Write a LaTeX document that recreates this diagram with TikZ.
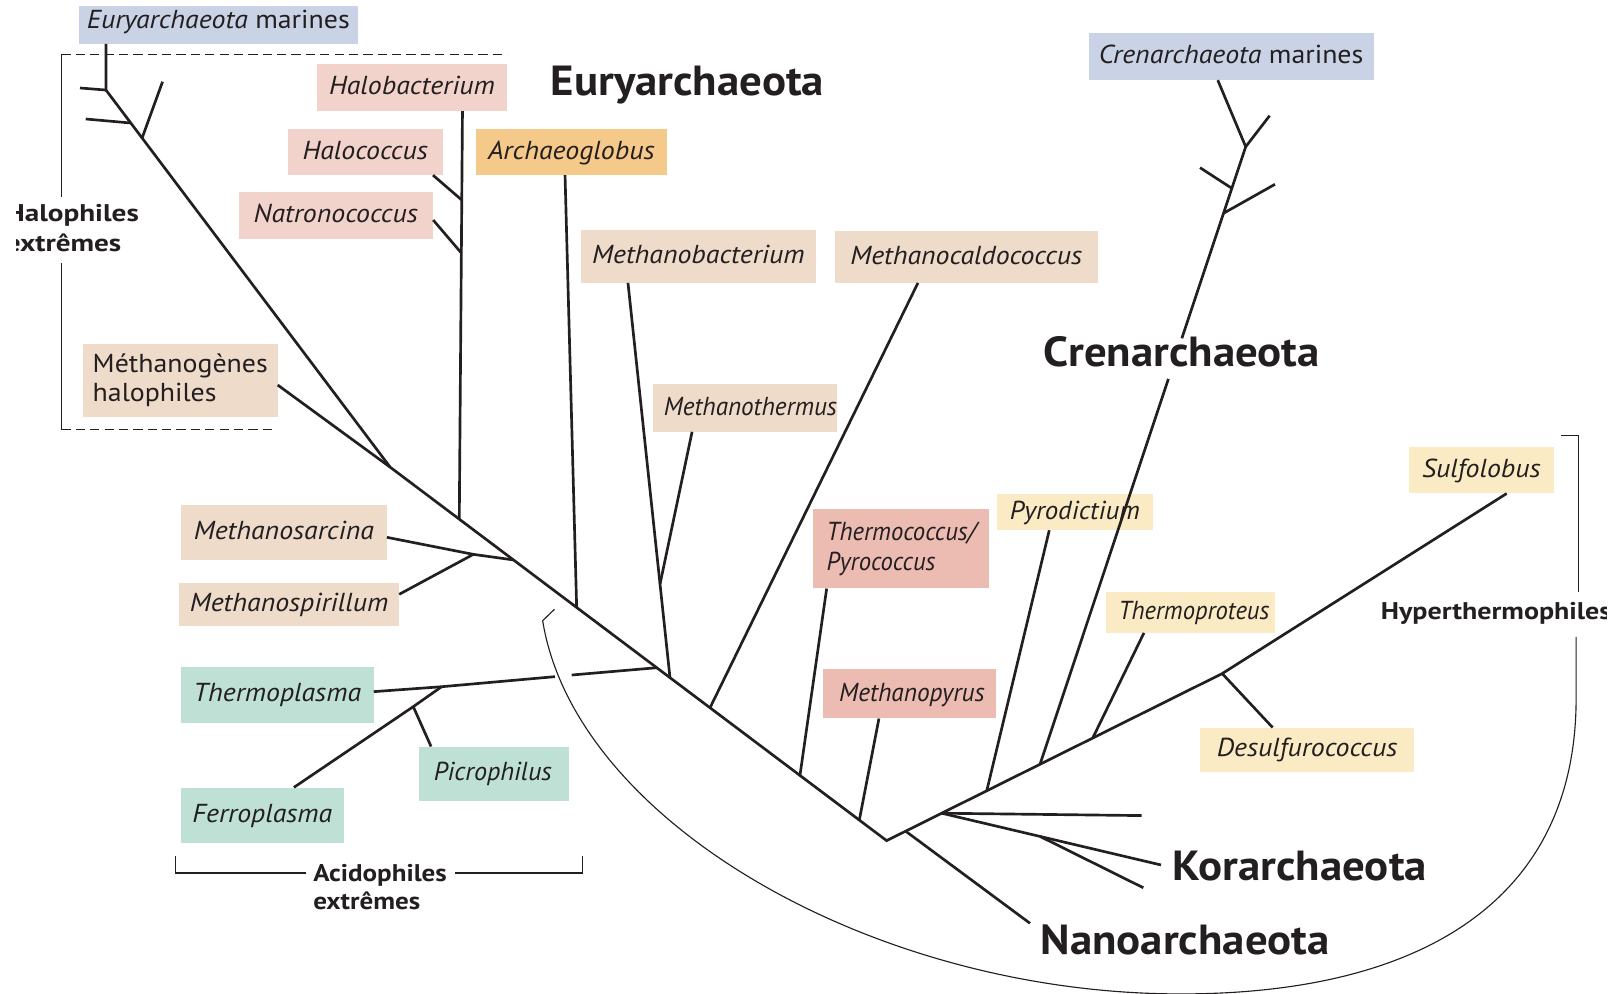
\documentclass[tikz,border=0pt]{standalone}
\usepackage{fontspec}
\usepackage{graphicx}
\setmainfont{PT Sans}[FakeStretch=1.072]
\newfontfamily\ttlfam{PT Sans}[FakeStretch=1.065]
\newfontfamily\grpfam{PT Sans}[FakeStretch=1.12]
\newfontfamily\hypfam{PT Sans}[FakeStretch=1.16]
\newfontfamily\halfam{PT Sans}[FakeStretch=1.21]
\usetikzlibrary{calc}
\definecolor{ink}{HTML}{231F20}
\definecolor{cBlue}{HTML}{C9D3E5}
\definecolor{cPink}{HTML}{F1D3CB}
\definecolor{cOrange}{HTML}{F5C989}
\definecolor{cBeige}{HTML}{EEDBCA}
\definecolor{cTeal}{HTML}{BFE0D5}
\definecolor{cSalmon}{HTML}{ECBBB1}
\definecolor{cYellow}{HTML}{FAEBC5}
\newcommand\mylabfont{\fontsize{25.3}{28}\selectfont\itshape}
\newcommand\myuplabfont{\fontsize{25.3}{27.6}\selectfont}
\newcommand\myttlfont{\ttlfam\fontsize{41}{44}\selectfont\bfseries}
\newcommand\mygrpfont{\grpfam\fontsize{23.5}{27}\selectfont\bfseries}
\newcommand\squeeze[2]{\scalebox{#1}[1]{#2}}
\begin{document}
\begin{tikzpicture}[x=1pt,y=-1pt,
  tree/.style={draw=ink, line width=2.6pt},
  thinl/.style={draw=ink, line width=1.1pt},
  lab/.style={rectangle, inner sep=0pt, text=ink, font=\mylabfont, text height=17pt, text depth=3pt},
  labtwo/.style={rectangle, inner sep=0pt, text=ink, align=left},
  ttl/.style={inner sep=0pt, text=ink, font=\myttlfont, anchor=base west},
  grp/.style={inner sep=0pt, text=ink, font=\mygrpfont}]
\useasboundingbox (0,0) rectangle (1568,968);
\begin{scope}
\clip (15.6,-10) rectangle (1565,978);
% ---------- boxes ----------
\node[lab, fill=cBlue, minimum width=272.2pt, minimum height=36.7pt, text depth=10pt] (emar) at (212.6,24.15) {Euryarchaeota {\upshape marines}};
\node[lab, fill=cPink, minimum width=185.1pt, minimum height=45.8pt] (halob) at (401.25,85.2) {Halobacterium};
\node[lab, fill=cPink, minimum width=151.4pt, minimum height=44.8pt] (haloc) at (355.7,148) {Halococcus};
\node[lab, fill=cPink, minimum width=189.3pt, minimum height=46.1pt] (natro) at (327.05,209.75) {Natronococcus};
\node[lab, fill=cOrange, minimum width=185.6pt, minimum height=44.8pt] (archae) at (556.4,148) {Archaeoglobus};
\node[lab, fill=cBeige, minimum width=228.7pt, minimum height=51.3pt] (mbact) at (680.15,249.65) {Methanobacterium};
\node[lab, fill=cBeige, minimum width=256.5pt, minimum height=50.3pt] (mcaldo) at (941.05,250.15) {Methanocaldococcus};
\node[labtwo, font=\myuplabfont, fill=cBeige, minimum width=189.5pt, minimum height=70.8pt] (mhalo) at (175.55,370.4) {Méthanogènes\\halophiles};
\node[lab, fill=cBeige, minimum width=178.7pt, minimum height=46.4pt] (mtherm) at (725.35,397.2) {\hspace*{11pt}\squeeze{0.905}{Methanothermus}};
\node[lab, fill=cBeige, minimum width=200.3pt, minimum height=53.3pt] (msarc) at (276.45,518.75) {Methanosarcina};
\node[lab, fill=cBeige, minimum width=214pt, minimum height=41.9pt] (mspir) at (281.6,588.45) {Methanospirillum};
\node[lab, fill=cTeal, minimum width=187.5pt, minimum height=54.1pt] (thermopl) at (270.05,676.65) {Thermoplasma};
\node[lab, fill=cTeal, minimum width=158.4pt, minimum height=54.4pt] (ferro) at (255.5,794.2) {Ferroplasma};
\node[lab, fill=cTeal, minimum width=146.1pt, minimum height=52.6pt] (picro) at (481.45,753.5) {\squeeze{0.94}{Picrophilus}\hspace*{3pt}};
\node[labtwo, font={\fontsize{25.3}{29.3}\selectfont\itshape}, fill=cSalmon, minimum width=171.4pt, minimum height=77pt] (thermoc) at (877.8,534.5) {\squeeze{0.886}{Thermococcus/}\\\squeeze{0.886}{Pyrococcus}};
\node[lab, fill=cSalmon, minimum width=168.8pt, minimum height=47.7pt] (mpyr) at (885.6,675.75) {\hspace*{5pt}\squeeze{0.911}{Methanopyrus}};
\node[lab, fill=cYellow, minimum width=151.6pt, minimum height=35.1pt] (pyrod) at (1046.8,498.65) {\squeeze{0.965}{Pyrodictium}};
\node[lab, fill=cYellow, minimum width=164.9pt, minimum height=40pt] (thermopr) at (1159.25,596.2) {\hspace*{7pt}\squeeze{0.884}{Thermoproteus}};
\node[lab, fill=cYellow, minimum width=141.8pt, minimum height=44.8pt] (sulfo) at (1442.8,458) {Sulfolobus};
\node[lab, fill=cYellow, minimum width=208.7pt, minimum height=42.8pt] (desulf) at (1273.05,730.1) {Desulfurococcus};
\node[lab, fill=cBlue, minimum width=277.6pt, minimum height=46.1pt] (cmar) at (1199,54.85) {Crenarchaeota {\upshape marines}};
% ---------- titles ----------
\node[ttl] (eury) at (536.2,93.2) {Euryarchaeota};
\node[ttl] (cren) at (1016.3,357) {Crenarchaeota};
\node[ttl] (kor) at (1142.1,857.8) {Korarchaeota};
\node[ttl] (nano) at (1013.4,929.9) {Nanoarchaeota};
% ---------- group labels ----------
\node[grp, font={\halfam\fontsize{23.5}{27}\selectfont\bfseries}, anchor=base east] (hal1) at (135.4,215.9) {Halophiles};
\node[grp, font={\halfam\fontsize{23.5}{27}\selectfont\bfseries}, anchor=base west] (hal2) at ($(hal1.base west)+(0,29.2)$) {extrêmes};
\node[grp, anchor=base west] (acid1) at (304.9,858.3) {Acidophiles};
\node[grp, anchor=base west] (acid2) at (304.9,885.3) {extrêmes};
\node[grp, font={\hypfam\fontsize{23.5}{27}\selectfont\bfseries}, anchor=base west] (hyper) at (1344.6,603.4) {Hyperthermophiles};
% ---------- junctions ----------
\coordinate (J1) at (103.2,87.7);
\coordinate (J2) at (127.4,119.8);
\coordinate (J3) at (138.4,134.4);
\coordinate (T1) at (77.9,85.7);
\coordinate (T2) at (83.5,115.9);
\coordinate (T3) at (158.3,79.6);
\coordinate (M) at (380,455);
\coordinate (V) at (863.5,818.7);
\coordinate (D) at (1190.3,656);
\coordinate (Hj) at (447.3,505.6);
\coordinate (Sj) at (500,545.3);
\coordinate (Aj) at (561.6,591.6);
\coordinate (Tj) at (639.6,650.3);
\coordinate (Bj) at (652.5,660);
\coordinate (Cj) at (691.5,689.3);
\coordinate (TCj) at (779.1,755.2);
\coordinate (MPj) at (836.9,798.7);
\coordinate (Nj) at (882,809.5);
\coordinate (Kj) at (917.1,792);
\coordinate (Pj) at (961,770.2);
\coordinate (CRj) at (1012.9,744.3);
\coordinate (TPj) at (1064.2,718.8);
\coordinate (HCj) at (449.7,194.8);
\coordinate (NCj) at (449.3,246.4);
\coordinate (MSj) at (461,539.9);
\coordinate (MTj) at (642.8,568.8);
\coordinate (TXj) at (430.1,668.8);
\coordinate (G1) at (540.5,659);
\coordinate (G2) at (556.8,657.4);
\coordinate (FPj) at (402.5,688.2);
\coordinate (C1) at (1213.2,142.9);
\coordinate (C2) at (1199.7,183.4);
\coordinate (C3) at (1191.6,207.7);
\coordinate (CRb1) at (1137.9,369);
\coordinate (CRb2) at (1151,329.5);
\coordinate (CT1) at (1236.5,112.7);
\coordinate (CT2) at (1168.7,163.3);
\coordinate (CT3) at (1241.7,179.5);
\coordinate (K1) at (1111.9,794.3);
\coordinate (K2) at (1130.7,842.4);
\coordinate (KJ) at (1012.9,814.6);
\coordinate (K3) at (1113.5,864.6);
\coordinate (N1) at (1003.1,899.2);
% ---------- tree ----------
\draw[tree] ([xshift=-109.4pt]emar.south) -- (J1) -- (M) -- (V) -- (D) -- ([xshift=24.6pt]sulfo.south);
\draw[tree] (J1) -- (T1);
\draw[tree] (J2) -- (T2);
\draw[tree] (J3) -- (T3);
\draw[tree] ([yshift=-4.6pt]mhalo.east) -- (M);
\draw[tree] ([xshift=49.15pt]halob.south) -- (Hj);
\draw[tree] ([xshift=66pt]haloc.south) -- (HCj);
\draw[tree] ([yshift=-4.55pt]natro.east) -- (NCj);
\draw[tree] ([xshift=-6.1pt]archae.south) -- (Aj);
\draw[tree] ([yshift=-4.55pt]msarc.east) -- (MSj) -- (Sj);
\draw[tree] ([yshift=9.65pt]mspir.east) -- (MSj);
\draw[tree] ([xshift=-68.55pt]mbact.south) -- (Bj);
\draw[tree] ([xshift=-51.35pt]mtherm.south) -- (MTj);
\draw[tree] ([xshift=-47.05pt]mcaldo.south) -- (Cj);
\draw[tree] ([yshift=3.05pt]thermopl.east) -- (TXj) -- (G1);
\draw[tree] (G2) -- (Tj);
\draw[tree] ([xshift=30.8pt]ferro.north) -- (FPj) -- (TXj);
\draw[tree] (FPj) -- ([xshift=-61.65pt]picro.north);
\draw[tree] ([xshift=-72.7pt]thermoc.south) -- (TCj);
\draw[tree] ([xshift=-29.6pt]mpyr.south) -- (MPj);
\draw[tree] ([xshift=-24.9pt]pyrod.south) -- (Pj);
\draw[tree] ([xshift=-45.15pt]thermopr.south) -- (TPj);
\draw[tree] (D) -- ([xshift=-33.65pt]desulf.north);
\draw[tree] (CRj) -- (CRb1);
\draw[tree] (CRb2) -- (C1) -- ([xshift=-13pt]cmar.south);
\draw[tree] (C1) -- (CT1);
\draw[tree] (C2) -- (CT2);
\draw[tree] (C3) -- (CT3);
\draw[tree] (Kj) -- (K1);
\draw[tree] (Kj) -- (K2);
\draw[tree] (KJ) -- (K3);
\draw[tree] (Nj) -- (N1);
% ---------- brackets ----------
\draw[thinl, dash pattern=on 9pt off 5pt] (59.8,52.9) -- (493.8,52.9);
\draw[thinl, dash pattern=on 9pt off 5pt] (59.8,418.1) -- (264.9,418.1);
\draw[thinl] (59.8,52.9) -- (59.8,191.9);
\draw[thinl] (59.8,256.1) -- (59.8,418.1);
\draw[thinl] (170.7,834) -- (170.7,850.2) -- (298.2,850.2);
\draw[thinl] (443.5,850.2) -- (567.3,850.2) -- (567.3,833.7);
\draw[thinl] (1520.3,424.4) -- (1537.6,424.4) -- (1537.6,576.7);
\draw[thinl] (540,593.4) -- (528.5,604.5) .. controls (560,800) and (850,968) .. (1150,968) .. controls (1380,968) and (1535,880) .. (1535,680) -- (1535,620.2);
\end{scope}
\end{tikzpicture}
\end{document}
